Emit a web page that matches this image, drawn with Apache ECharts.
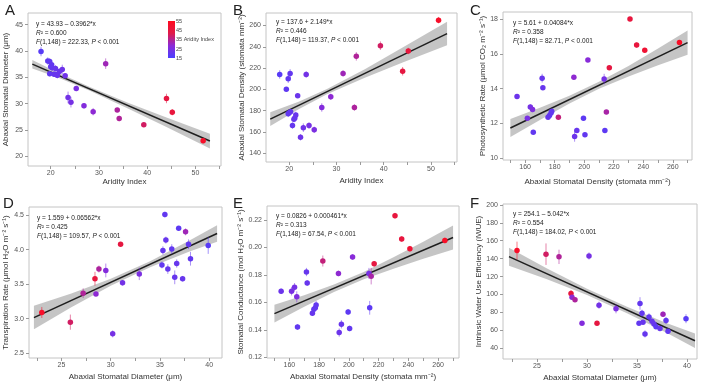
<!DOCTYPE html>
<html><head><meta charset="utf-8">
<script src="https://cdn.jsdelivr.net/npm/echarts@6/dist/echarts.min.js"></script>
<style>html,body{margin:0;padding:0;background:#fff}#c{width:702px;height:385px}</style>
</head><body><div id="c"></div>
<script>
// ---------- DATA ----------
// Panels A & B: aridity index of each site
const aiAB   = [18.0,19.4,19.8,20.2,19.8,20.0,20.3,20.7,21.0,21.2,21.4,21.8,22.4,23.0,23.6,24.2,25.3,26.9,28.8,31.4,33.8,34.2,39.3,44.0,45.2,51.6];
const diamA  = [39.9,38.1,38.0,37.4,35.7,37.0,36.8,35.6,36.7,35.5,35.4,36.1,36.5,35.3,31.2,30.3,32.9,29.6,28.5,37.6,28.8,27.2,26.0,31.0,28.4,23.0];
const errA   = [0.9,0.7,0.6,0.6,0.5,0.6,0.6,0.5,0.6,0.6,0.6,0.6,0.9,0.5,1.1,1.0,0.5,0.5,0.7,1.0,0.3,0.5,0.4,0.9,0.6,0.5];
const densB  = [214,200,210,215,177,178,179,166,172,173,176,194,155,164,214,166,162,183,193,215,183,231,241,217,236,265];
const errB   = [4,2,4,4,3,2,2,3,3,3,3,2,3,4,3,3,3,4,3,3,3,4,4,4,3,3];

// Panels C & E: stomatal density on x, colour = aridity index
const densCE = [154.5,161.5,163.5,165,165.5,171.5,172,175.5,176.5,177.5,178,182.5,193,193.5,195,199.5,200.5,202.5,213.5,214,215,217,231,235.5,241,264.5];
const aiCE   = [22,25,24,26,20,21,21,21,20,20,20,37,29,22,21,19,20,28,24,19,33,44,45,45,48,52];
const photoC = [13.55,12.3,12.95,12.8,11.5,14.6,14.05,12.35,12.45,12.6,12.7,12.35,14.65,11.25,11.6,12.3,11.35,15.65,14.55,11.6,12.65,15.2,18.0,16.5,16.2,16.65];
const errC   = [0.08,0.1,0.15,0.15,0.08,0.25,0.1,0.1,0.1,0.1,0.1,0.08,0.1,0.3,0.15,0.08,0.12,0.1,0.3,0.1,0.12,0.1,0.1,0.15,0.1,0.1];
const condE  = [0.168,0.168,0.171,0.164,0.142,0.182,0.174,0.152,0.155,0.156,0.158,0.190,0.181,0.138,0.144,0.153,0.141,0.193,0.181,0.156,0.179,0.188,0.223,0.206,0.199,0.205];
const errE   = [0.002,0.003,0.003,0.004,0.002,0.003,0.002,0.002,0.002,0.002,0.003,0.004,0.002,0.003,0.003,0.002,0.002,0.002,0.004,0.005,0.006,0.002,0.002,0.002,0.002,0.002];

// Panels D & F: stomatal diameter on x, colour = aridity index
const diamDF = [23.0,25.9,27.2,28.4,28.5,28.8,29.5,30.2,31.0,31.2,32.9,35.2,35.3,35.5,35.6,35.8,36.2,36.5,36.7,36.9,37.3,37.6,37.9,38.1,39.9];
const aiDF   = [51.6,39.3,34.2,45.2,28.8,33.8,26.9,24.2,44.0,23.6,25.3,20,20.3,20,21,20.7,20,21,21,19,21,31.4,20,20,18];
const transD = [3.09,2.95,3.37,3.58,3.36,3.72,3.70,2.78,4.08,3.52,3.65,3.78,3.99,4.51,4.14,3.72,4.01,3.60,3.80,4.31,3.58,4.26,4.08,3.87,4.06];
const errD   = [0.08,0.11,0.07,0.1,0.03,0.05,0.1,0.05,0.03,0.04,0.09,0.05,0.06,0.04,0.05,0.07,0.07,0.1,0.06,0.03,0.04,0.05,0.07,0.1,0.12];
const wueF   = [149,145,142,101,97,94,68,143,68,88,84,68,90,79,69,56,75,70,67,64,62,78,71,59,73];
const errF   = [10,12,8,4,3,2,2,4,2,4,5,2,7,4,2,4,4,3,3,2,2,3,4,3,5];

// Regression lines (end points) and confidence bands
const lineA = {x:[16.2,53.0], y:[37.51,22.93]};
const bandA = {x:[16.2,22,28,36,44,53], lo:[36.7,34.8,32.5,29.1,25.6,21.5], hi:[38.3,35.7,33.2,30.2,27.4,24.3]};
const lineB = {x:[16.0,53.4], y:[172.0,252.4]};
const bandB = {x:[16,22,28,36,44,53.4], lo:[165.5,181.4,195.3,211.0,225.2,241.4], hi:[178.5,188.4,200.3,219.0,239.2,263.4]};
const lineC = {x:[150,270], y:[11.74,16.64]};
const bandC = {x:[150,170,190,210,230,250,270], lo:[11.22,12.20,13.15,13.99,14.70,15.34,15.94], hi:[12.26,12.90,13.59,14.39,15.30,16.30,17.34]};
const lineD = {x:[22.2,40.8], y:[3.016,4.236]};
const bandD = {x:[22.2,26,30,34,38,40.8], lo:[2.846,3.165,3.478,3.745,3.973,4.116], hi:[3.186,3.365,3.578,3.835,4.133,4.356]};
const lineE = {x:[150,270], y:[0.1518,0.2071]};
const bandE = {x:[150,170,190,210,230,250,270], lo:[0.1453,0.1568,0.1675,0.1767,0.1844,0.1917,0.1983], hi:[0.1583,0.1652,0.1729,0.1821,0.1928,0.2041,0.2159]};
const lineF = {x:[22.2,40.8], y:[142.2,48.4]};
const bandF = {x:[22.2,26,30,34,38,40.8], lo:[132.2,117.0,99.3,79.2,57.0,40.4], hi:[152.2,129.0,106.3,86.2,68.0,56.4]};

// Tick labels
const ticksAI    = [20,30,40,50];
const ticksAIm   = [20,25,30,35,40,45,50,55];
const ticksDens  = [160,180,200,220,240,260];
const ticksDensM = [150,160,170,180,190,200,210,220,230,240,250,260,270];
const ticksDiam  = [25,30,35,40];
const ticksDiamM = [22.5,25,27.5,30,32.5,35,37.5,40];
const ticksYA = [20,25,30,35,40,45];
const ticksYB = [140,160,180,200,220,240,260];
const ticksYC = [10,12,14,16,18];
const ticksYD = [2.5,3.0,3.5,4.0,4.5];
const ticksYE = [0.12,0.14,0.16,0.18,0.20,0.22];
const ticksYF = [40,60,80,100,120,140,160,180,200];
const legendTicks = ['55','45','35 Aridity Index','25','15'];

const eqA = ['y = 43.93 – 0.3962*x','0.600','222.33'];
const eqB = ['y = 137.6 + 2.149*x','0.446','119.37'];
const eqC = ['y = 5.61 + 0.04084*x','0.358','82.71'];
const eqD = ['y = 1.559 + 0.06562*x','0.425','109.57'];
const eqE = ['y = 0.0826 + 0.000461*x','0.313','67.54'];
const eqF = ['y = 254.1 – 5.042*x','0.554','184.02'];

// ---------- LAYOUT ----------
const FONT = 'Liberation Sans, Arial, sans-serif';
const panels = [
 {L:'A', x:aiAB, y:diamA, e:errA, c:aiAB, line:lineA, band:bandA, eq:eqA,
  grid:{left:28,top:13,width:193,height:153}, xr:[15.3,55.3], xl:ticksAI, xt:ticksAIm, yr:[18.2,47.2], yl:ticksYA, dec:0,
  xn:'Aridity Index', yn:'Abaxial Stomatal Diameter (μm)', ygap:18, xgap:12, lp:[5,3], eqp:[36,20]},
 {L:'B', x:aiAB, y:densB, e:errB, c:aiAB, line:lineB, band:bandB, eq:eqB,
  grid:{left:266,top:13,width:191,height:149}, xr:[15.1,55.5], xl:ticksAI, xt:ticksAIm, yr:[131.8,271.7], yl:ticksYB, dec:0,
  xn:'Aridity Index', yn:'Abaxial Stomatal Density (stomata mm⁻²)', ygap:20, xgap:15, lp:[233,3], eqp:[276,18]},
 {L:'C', x:densCE, y:photoC, e:errC, c:aiCE, line:lineC, band:bandC, eq:eqC,
  grid:{left:503,top:12,width:189,height:148}, xr:[145,273], xl:ticksDens, xt:ticksDensM, yr:[9.9,18.4], yl:ticksYC, dec:0,
  xn:'Abaxial Stomatal Density (stomata mm⁻²)', yn:'Photosynthetic Rate (μmol CO₂ m⁻² s⁻¹)', ygap:16, xgap:18, lp:[470,3], eqp:[513,19]},
 {L:'D', x:diamDF, y:transD, e:errD, c:aiDF, line:lineD, band:bandD, eq:eqD,
  grid:{left:29,top:207,width:193,height:151}, xr:[21.7,41.3], xl:ticksDiam, xt:ticksDiamM, yr:[2.43,4.62], yl:ticksYD, dec:1,
  xn:'Abaxial Stomatal Diameter (μm)', yn:'Transpiration Rate (μmol H₂O m⁻² s⁻¹)', ygap:19, xgap:15, lp:[3,196], eqp:[37,214]},
 {L:'E', x:densCE, y:condE, e:errE, c:aiCE, line:lineE, band:bandE, eq:eqE,
  grid:{left:267,top:206,width:192,height:152}, xr:[145,274], xl:ticksDens, xt:ticksDensM, yr:[0.1195,0.230], yl:ticksYE, dec:2,
  xn:'Abaxial Stomatal Density (stomata mm⁻²)', yn:'Stomatal Conductance (mol H₂O m⁻² s⁻¹)', ygap:22, xgap:15, lp:[233,196], eqp:[276,212]},
 {L:'F', x:diamDF, y:wueF, e:errF, c:aiDF, line:lineF, band:bandF, eq:eqF,
  grid:{left:503,top:204,width:194,height:155}, xr:[21.6,41.0], xl:ticksDiam, xt:ticksDiamM, yr:[28,201], yl:ticksYF, dec:0,
  xn:'Abaxial Stomatal Diameter (μm)', yn:'Intrinsic Water Use Efficiency (iWUE)', ygap:20, xgap:15, lp:[470,196], eqp:[513,210]}
];

const COLORS = ['#4a40ff','#8a2ad8','#e01a48','#ff0a1e'];

const grids=[], xAxes=[], yAxes=[], series=[], graphics=[], colorSeries=[];
panels.forEach((p,i)=>{
  grids.push(Object.assign({show:true,borderColor:'#c4c4c4',borderWidth:1,backgroundColor:'#fff'},p.grid));
  xAxes.push({type:'value',gridIndex:i,min:p.xr[0],max:p.xr[1],
    name:p.xn,nameLocation:'middle',nameGap:p.xgap,nameTextStyle:{fontSize:8,color:'#333',fontFamily:FONT},
    axisLine:{show:false},splitLine:{show:false},
    axisTick:{show:true,length:3,customValues:p.xt,lineStyle:{color:'#9a9a9a'}},
    axisLabel:{customValues:p.xl,fontSize:7,color:'#555',margin:4,fontFamily:FONT}});
  yAxes.push({type:'value',gridIndex:i,min:p.yr[0],max:p.yr[1],
    name:p.yn,nameLocation:'middle',nameGap:p.ygap,nameTextStyle:{fontSize:8,color:'#333',fontFamily:FONT},
    axisLine:{show:false},splitLine:{show:false},
    axisTick:{show:true,length:3,customValues:p.yl,lineStyle:{color:'#9a9a9a'}},
    axisLabel:{customValues:p.yl,fontSize:7,color:'#555',margin:5,fontFamily:FONT,
      formatter:v=>Number(v).toFixed(p.dec)}});
  const band=p.band;
  series.push({type:'custom',xAxisIndex:i,yAxisIndex:i,z:1,silent:true,
    data:[[band.x[0],band.lo[0]]],
    renderItem:(params,api)=>{
      const pts=band.x.map((x,k)=>api.coord([x,band.hi[k]]));
      for(let k=band.x.length-1;k>=0;k--) pts.push(api.coord([band.x[k],band.lo[k]]));
      return {type:'polygon',shape:{points:pts},style:{fill:'rgba(140,140,140,0.5)',stroke:null}};
    }});
  series.push({type:'line',xAxisIndex:i,yAxisIndex:i,z:2,symbol:'none',silent:true,
    data:p.line.x.map((x,k)=>[x,p.line.y[k]]),lineStyle:{color:'#1e1e1e',width:1.5}});
  const pts=p.x.map((x,k)=>[x,p.y[k],p.c[k],p.e[k]]);
  colorSeries.push(series.length);
  series.push({type:'custom',xAxisIndex:i,yAxisIndex:i,z:3,data:pts,
    renderItem:(params,api)=>{
      const x=api.value(0),y=api.value(1),e=api.value(3);
      const a=api.coord([x,y-e]),b=api.coord([x,y+e]);
      return {type:'line',shape:{x1:a[0],y1:a[1],x2:b[0],y2:b[1]},style:{stroke:api.visual('color'),lineWidth:1,opacity:0.55}};
    }});
  colorSeries.push(series.length);
  series.push({type:'scatter',xAxisIndex:i,yAxisIndex:i,z:4,symbolSize:5.5,data:pts,itemStyle:{opacity:1}});
  graphics.push({type:'text',left:p.lp[0],top:p.lp[1],style:{text:p.L,fontSize:15,fill:'#222',fontFamily:FONT}});
  graphics.push({type:'text',left:p.eqp[0],top:p.eqp[1],style:{
    text:p.eq[0]+'\n{i|R}² = '+p.eq[1]+'\n{i|F}(1,148) = '+p.eq[2]+', {i|P} < 0.001',
    fontSize:6.5,lineHeight:9,fill:'#222',fontFamily:FONT,
    rich:{i:{fontStyle:'italic',fontSize:6.5,fill:'#222',fontFamily:FONT}}}});
});

// colour bar legend (panel A)
graphics.push({type:'rect',left:168,top:21,shape:{width:7,height:37},style:{
  fill:new echarts.graphic.LinearGradient(0,0,0,1,[
    {offset:0,color:COLORS[3]},{offset:0.33,color:COLORS[2]},{offset:0.67,color:COLORS[1]},{offset:1,color:COLORS[0]}])}});
legendTicks.forEach((t,k)=>{
  graphics.push({type:'text',left:176,top:18.5+k*9.2,style:{text:t,fontSize:5.5,fill:'#444',fontFamily:FONT}});
});

const chart=echarts.init(document.getElementById('c'),null,{renderer:'canvas'});
chart.setOption({
  animation:false,
  grid:grids,xAxis:xAxes,yAxis:yAxes,series:series,graphic:graphics,
  visualMap:[{type:'continuous',show:false,min:15,max:55,dimension:2,seriesIndex:colorSeries,inRange:{color:COLORS}}]
});
</script></body></html>
